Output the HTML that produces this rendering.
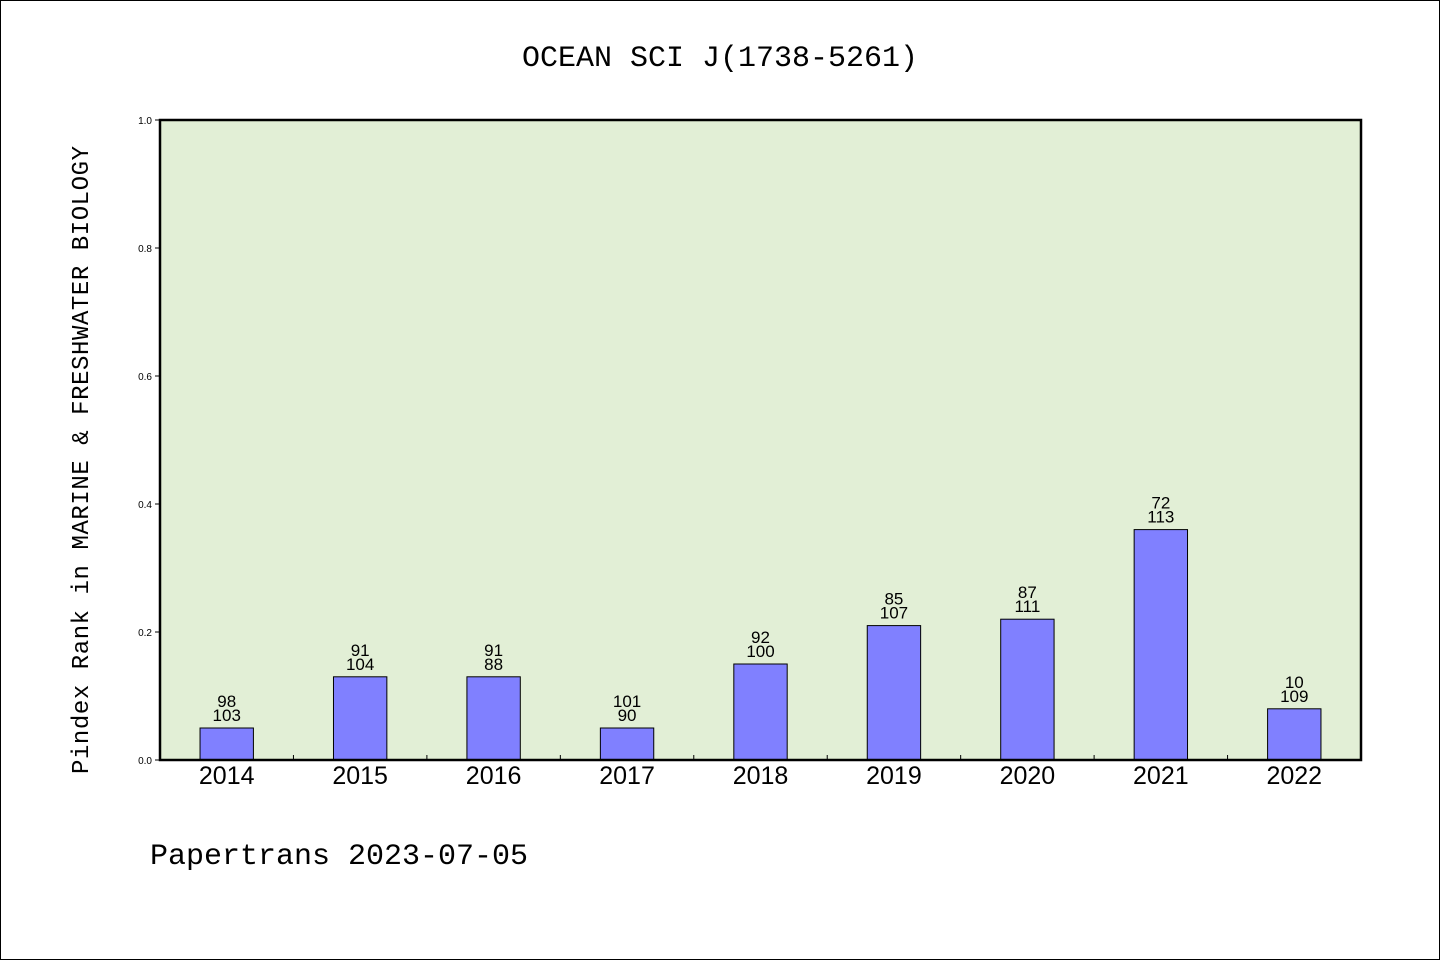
<!DOCTYPE html>
<html><head><meta charset="utf-8"><style>
body{margin:0;background:#fff;}
svg text{font-family:"Liberation Mono","WenQuanYi Zen Hei",monospace;}
svg text.sans{font-family:"Liberation Sans",sans-serif;}
</style></head><body>
<svg width="1440" height="960" xmlns="http://www.w3.org/2000/svg">
<rect x="0.5" y="0.5" width="1439" height="959" fill="#fff" stroke="#000"/>
<text x="720" y="66" font-size="30" text-anchor="middle">OCEAN SCI J(1738-5261)</text>
<rect x="160" y="120" width="1201" height="640" fill="#e2efd6"/>
<g id="ticks"></g>
<g id="bars"></g>
<rect x="160" y="120" width="1201" height="640" fill="none" stroke="#000" stroke-width="2.5"/>
<text transform="translate(88,460) rotate(-90)" font-size="24" text-anchor="middle" textLength="628">Pindex Rank in MARINE &amp; FRESHWATER BIOLOGY</text>
<text x="150" y="864" font-size="30">Papertrans 2023-07-05</text>
</svg>
<script>
const categories=["2014","2015","2016","2017","2018","2019","2020","2021","2022"];
const values=[0.05,0.13,0.13,0.05,0.15,0.21,0.22,0.36,0.08];
const ranks=["98","91","91","101","92","85","87","72","10"];
const totals=["103","104","88","90","100","107","111","113","109"];
const yTicks=[0,0.2,0.4,0.6,0.8,1.0];
const NS="http://www.w3.org/2000/svg";
const x0=160,x1=1361,yb=760,yt=120;
const step=(x1-x0)/categories.length;
const xc=i=>x0+step*(i+0.5);
const y=v=>yb-(yb-yt)*v;
function mk(t,a,p){const e=document.createElementNS(NS,t);for(const k in a)e.setAttribute(k,a[k]);p.appendChild(e);return e;}
const tg=document.getElementById('ticks'),bg=document.getElementById('bars');
yTicks.forEach(v=>{
 const l=mk('line',{x1:155,x2:160,y1:y(v),y2:y(v),stroke:'#000'},tg);
 
 
 const t=mk('text',{x:152,y:y(v)+4,'font-size':10,'text-anchor':'end','class':'sans'},tg);
 t.textContent=v.toFixed(1);
 
 
});
for(let i=1;i<categories.length;i++){
 const l=mk('line',{x1:x0+step*i,x2:x0+step*i,y1:yb-5,y2:yb,stroke:'#000'},tg);
 
 
}
categories.forEach((c,i)=>{
 const w=step*0.4;
 const r=mk('rect',{x:xc(i)-w/2,y:y(values[i]),width:w,height:yb-y(values[i]),fill:'#8080ff',stroke:'#000','stroke-width':1},bg);
 
 
 const t1=mk('text',{x:xc(i),y:y(values[i])-21,'font-size':17,'text-anchor':'middle','class':'sans'},bg);
 t1.textContent=ranks[i];
 
 
 const t2=mk('text',{x:xc(i),y:y(values[i])-7,'font-size':17,'text-anchor':'middle','class':'sans'},bg);
 t2.textContent=totals[i];
 
 
 const xl=mk('text',{x:xc(i),y:784,'font-size':25,'text-anchor':'middle','class':'sans'},bg);
 xl.textContent=c;
 
 
});
</script>
</body></html>
